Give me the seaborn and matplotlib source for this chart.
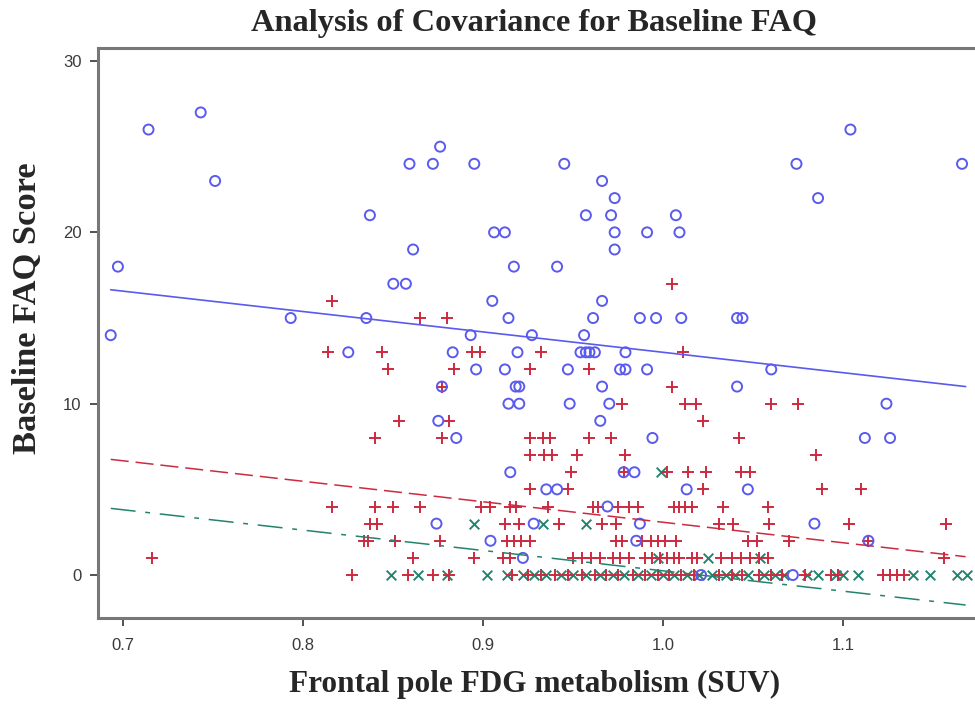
import matplotlib
matplotlib.use("Agg")
import matplotlib.pyplot as plt
import seaborn as sns

# ---------------- data ----------------
# Group 1: open blue circles
ad_x = [0.743, 0.714, 1.104, 0.876,
        0.859, 0.872, 0.895, 0.945, 1.074, 1.166,
        0.751, 0.966, 0.973, 1.086,
        0.837, 0.957, 0.971, 1.007,
        0.906, 0.912, 0.973, 0.991, 1.009,
        0.861, 0.973, 0.697, 0.917, 0.941,
        0.850, 0.857, 0.905, 0.966,
        0.793, 0.835, 0.914, 0.961, 0.987, 0.996, 1.010, 1.041, 1.044,
        0.693, 0.893, 0.927, 0.956,
        0.825, 0.883, 0.919, 0.954, 0.957, 0.959, 0.962, 0.979,
        0.896, 0.912, 0.947, 0.976, 0.979, 0.991, 1.060,
        0.877, 0.918, 0.920, 0.966, 1.041,
        0.914, 0.920, 0.948, 0.970, 1.124,
        0.875, 0.965,
        0.885, 0.994, 1.112, 1.126,
        0.915, 0.978, 0.984,
        0.935, 0.941, 1.013, 1.047,
        0.969,
        0.874, 0.928, 0.987, 1.084,
        0.904, 0.985, 1.114,
        0.922,
        1.021, 1.072]
ad_y = [27, 26, 26, 25,
        24, 24, 24, 24, 24, 24,
        23, 23, 22, 22,
        21, 21, 21, 21,
        20, 20, 20, 20, 20,
        19, 19, 18, 18, 18,
        17, 17, 16, 16,
        15, 15, 15, 15, 15, 15, 15, 15, 15,
        14, 14, 14, 14,
        13, 13, 13, 13, 13, 13, 13, 13,
        12, 12, 12, 12, 12, 12, 12,
        11, 11, 11, 11, 11,
        10, 10, 10, 10, 10,
        9, 9,
        8, 8, 8, 8,
        6, 6, 6,
        5, 5, 5, 5,
        4,
        3, 3, 3, 3,
        2, 2, 2,
        1,
        0, 0]

# Group 2: red plus signs
mci_x = [1.005, 0.816, 0.865, 0.880,
         0.814, 0.844, 0.894, 0.898, 0.932, 1.011,
         0.847, 0.884, 0.926, 0.959,
         0.877, 1.005,
         0.977, 1.012, 1.018, 1.060, 1.075,
         0.853, 0.881, 1.022,
         0.840, 0.877, 0.926, 0.933, 0.937, 0.959, 0.971, 1.042,
         0.926, 0.934, 0.938, 0.952, 0.979, 1.085,
         0.949, 0.978, 1.002, 1.014, 1.024, 1.043, 1.048,
         0.926, 0.947, 1.022, 1.088, 1.110,
         0.816, 0.840, 0.850, 0.865, 0.899, 0.904, 0.915, 0.918, 0.936, 0.961,
         0.964, 0.975, 0.981, 0.986, 1.006, 1.009, 1.012, 1.016, 1.033, 1.058,
         0.837, 0.841, 0.912, 0.920, 0.942, 0.966, 0.974, 1.031, 1.039, 1.059,
         1.103, 1.157,
         0.834, 0.836, 0.851, 0.876, 0.913, 0.917, 0.921, 0.926, 0.974, 0.977,
         0.988, 0.993, 0.997, 1.001, 1.007, 1.047, 1.052, 1.070, 1.114,
         0.716, 0.861, 0.895, 0.911, 0.915, 0.950, 0.955, 0.960, 0.965, 0.972,
         0.976, 0.981, 0.990, 0.994, 0.998, 1.002, 1.006, 1.009, 1.016, 1.019,
         1.032, 1.038, 1.043, 1.048, 1.053, 1.058, 1.156,
         0.827, 0.858, 0.872, 0.881, 0.916, 0.925, 0.932, 0.940, 0.947, 0.955,
         0.962, 0.968, 0.975, 0.983, 0.990, 0.997, 1.003, 1.010, 1.017, 1.031,
         1.038, 1.044, 1.053, 1.060, 1.066, 1.079, 1.093, 1.097, 1.122, 1.126,
         1.130, 1.134]
mci_y = [17, 16, 15, 15,
         13, 13, 13, 13, 13, 13,
         12, 12, 12, 12,
         11, 11,
         10, 10, 10, 10, 10,
         9, 9, 9,
         8, 8, 8, 8, 8, 8, 8, 8,
         7, 7, 7, 7, 7, 7,
         6, 6, 6, 6, 6, 6, 6,
         5, 5, 5, 5, 5,
         4, 4, 4, 4, 4, 4, 4, 4, 4, 4,
         4, 4, 4, 4, 4, 4, 4, 4, 4, 4,
         3, 3, 3, 3, 3, 3, 3, 3, 3, 3,
         3, 3,
         2, 2, 2, 2, 2, 2, 2, 2, 2, 2,
         2, 2, 2, 2, 2, 2, 2, 2, 2,
         1, 1, 1, 1, 1, 1, 1, 1, 1, 1,
         1, 1, 1, 1, 1, 1, 1, 1, 1, 1,
         1, 1, 1, 1, 1, 1, 1,
         0, 0, 0, 0, 0, 0, 0, 0, 0, 0,
         0, 0, 0, 0, 0, 0, 0, 0, 0, 0,
         0, 0, 0, 0, 0, 0, 0, 0, 0, 0,
         0, 0]

# Group 3: teal crosses
nc_x = [0.999,
        0.895, 0.933, 0.957,
        0.997, 1.025, 1.054,
        0.849, 0.864, 0.880, 0.902, 0.913, 0.922, 0.928, 0.935, 0.943, 0.950,
        0.957, 0.965, 0.972, 0.978, 0.986, 0.993, 1.000, 1.006, 1.013, 1.020,
        1.027, 1.035, 1.040, 1.047, 1.056, 1.062, 1.067, 1.080, 1.086, 1.096,
        1.100, 1.108, 1.139, 1.148, 1.163, 1.169]
nc_y = [6,
        3, 3, 3,
        1, 1, 1,
        0, 0, 0, 0, 0, 0, 0, 0, 0, 0,
        0, 0, 0, 0, 0, 0, 0, 0, 0, 0,
        0, 0, 0, 0, 0, 0, 0, 0, 0, 0,
        0, 0, 0, 0, 0, 0]

# Fitted (parallel) ANCOVA lines: end points
fit_x = [0.693, 1.168]
ad_fit_y = [16.65, 11.0]
mci_fit_y = [6.75, 1.07]
nc_fit_y = [3.89, -1.75]

x_ticks = [0.7, 0.8, 0.9, 1.0, 1.1]
x_tick_labels = ["0.7", "0.8", "0.9", "1.0", "1.1"]
y_ticks = [0, 10, 20, 30]
y_tick_labels = ["0", "10", "20", "30"]

BLUE = "#5a5aee"
RED = "#cc2a40"
TEAL = "#23836f"

# ---------------- figure ----------------
sns.set_theme(style="white")
plt.rcParams['font.family'] = ['Liberation Sans', 'DejaVu Sans']
plt.rcParams['lines.scale_dashes'] = False

fig = plt.figure(figsize=(9.75, 7.04), dpi=100)
W, H = 975.0, 704.0
left, right, top, bottom = 98.3, 975.0, 48.0, 617.7
ax = fig.add_axes([left / W, 1 - bottom / H, (right - left) / W, (bottom - top) / H])

sns.lineplot(x=fit_x, y=ad_fit_y, color=BLUE, lw=1.2, ax=ax)
sns.lineplot(x=fit_x, y=mci_fit_y, color=RED, lw=1.1, ax=ax, linestyle=(0, (13, 5)))
sns.lineplot(x=fit_x, y=nc_fit_y, color=TEAL, lw=1.1, ax=ax, linestyle=(0, (18, 7, 3.5, 7)))

sns.scatterplot(x=nc_x, y=nc_y, marker="x", s=48, color=TEAL, linewidth=1.4, ax=ax)
sns.scatterplot(x=mci_x, y=mci_y, marker="+", s=66, color=RED, linewidth=1.4, ax=ax)
sns.scatterplot(x=ad_x, y=ad_y, marker="o", s=52, color=BLUE, linewidth=1.4, ax=ax)
pts = ax.collections[-1]
pts.set_facecolor("none")
pts.set_edgecolor(BLUE)

ax.set_xlim(0.6861, 1.1732)
ax.set_ylim(-2.49, 30.76)
ax.set_xticks(x_ticks)
ax.set_xticklabels(x_tick_labels)
ax.set_yticks(y_ticks)
ax.set_yticklabels(y_tick_labels)
ax.tick_params(axis="both", which="major", direction="out", length=6, width=1.3,
               color="#444444", labelcolor="#3a3a3a", labelsize=12,
               bottom=True, left=True)
ax.tick_params(axis="x", pad=8.5)
ax.tick_params(axis="y", pad=6)

for side in ["left", "bottom", "top"]:
    ax.spines[side].set_visible(True)
    ax.spines[side].set_color("#777777")
    ax.spines[side].set_linewidth(2.2)
ax.spines["right"].set_visible(False)

serif = ["Liberation Serif", "DejaVu Serif"]
fig.text(534 / W, 1 - 24 / H, "Analysis of Covariance for Baseline FAQ",
         ha="center", va="center", fontsize=23.3, fontweight="bold", family=serif)
fig.text(535 / W, 1 - 684 / H, "Frontal pole FDG metabolism (SUV)",
         ha="center", va="center", fontsize=22.5, fontweight="bold", family=serif)
fig.text(28 / W, 1 - 308 / H, "Baseline FAQ Score", rotation=90,
         ha="center", va="center", fontsize=24.8, fontweight="bold", family=serif)

fig.savefig("out.png", dpi=100)
